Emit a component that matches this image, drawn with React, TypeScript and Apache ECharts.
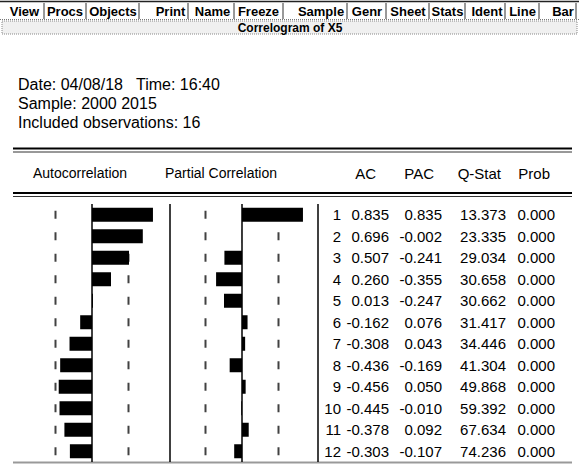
import React, { useEffect, useRef } from "react";
import * as echarts from "echarts";

// ---- data ----
const lags = [1, 2, 3, 4, 5, 6, 7, 8, 9, 10, 11, 12];
const acValues = [0.835, 0.696, 0.507, 0.26, 0.013, -0.162, -0.308, -0.436, -0.456, -0.445, -0.378, -0.303];
const pacValues = [0.835, -0.002, -0.241, -0.355, -0.247, 0.076, 0.043, -0.169, 0.05, -0.01, 0.092, -0.107];
const qStats = [13.373, 23.335, 29.034, 30.658, 30.662, 31.417, 34.446, 41.304, 49.868, 59.392, 67.634, 74.236];
const probs = [0, 0, 0, 0, 0, 0, 0, 0, 0, 0, 0, 0];
const confBound = 0.5; // 2/sqrt(16)
const tableHeaders = ["AC", "PAC", "Q-Stat", "Prob"];
const panelHeaders = ["Autocorrelation", "Partial Correlation"];
const infoLines = ["Date: 04/08/18   Time: 16:40", "Sample: 2000 2015", "Included observations: 16"];
const toolbarLabels = ["View", "Procs", "Objects", "Print", "Name", "Freeze", "Sample", "Genr", "Sheet", "Stats", "Ident", "Line", "Bar"];
const windowTitle = "Correlogram of X5";

// ---- layout (not data) ----
const W = 579;
const H = 470;
const FONT = '"Liberation Sans", Arial, sans-serif';
const GRID_TOP = 204;
const GRID_H = 258;
const toolbarSpans: [number, number][] = [
  [8, 41], [47, 83], [90, 136], [156, 185], [194, 231], [237, 280],
  [298, 344], [351, 383], [390, 426], [433, 462], [472, 502], [509, 536], [553, 573],
];
const colRight = [341, 389, 442, 506, 555];
const headRight = [376, 434, 501, 550];

export default function App() {
  const ref = useRef<HTMLDivElement>(null);
  useEffect(() => {
    document.body.style.margin = "0";
    const el = ref.current;
    if (!el) return;
    const chart = echarts.init(el, null, { renderer: "svg" });

    const boundSeries = (xi: number, sign: number) => ({
      type: "scatter",
      xAxisIndex: xi,
      yAxisIndex: xi,
      symbol: "rect",
      symbolSize: [2, 8],
      itemStyle: { color: "#111" },
      z: 2,
      silent: true,
      data: lags.map((_, i) => [sign * confBound, i]),
    });
    const zeroLine = {
      silent: true,
      symbol: "none",
      label: { show: false },
      lineStyle: { color: "#000", width: 1.5, type: "solid" },
      data: [{ xAxis: 0 }],
    };

    chart.setOption({
      animation: false,
      backgroundColor: "#fff",
      grid: [
        { left: 19, width: 146, top: GRID_TOP, height: GRID_H },
        { left: 169, width: 146, top: GRID_TOP, height: GRID_H },
      ],
      xAxis: [0, 1].map((i) => ({
        type: "value",
        gridIndex: i,
        min: -1,
        max: 1,
        show: false,
      })),
      yAxis: [0, 1].map((i) => ({
        type: "category",
        gridIndex: i,
        data: lags.map(String),
        inverse: true,
        show: false,
      })),
      series: [
        {
          type: "bar",
          xAxisIndex: 0,
          yAxisIndex: 0,
          data: acValues,
          barWidth: 14,
          itemStyle: { color: "#000" },
          z: 3,
          markLine: zeroLine,
        },
        {
          type: "bar",
          xAxisIndex: 1,
          yAxisIndex: 1,
          data: pacValues,
          barWidth: 14,
          itemStyle: { color: "#000" },
          z: 3,
          markLine: zeroLine,
        },
        boundSeries(0, -1),
        boundSeries(0, 1),
        boundSeries(1, -1),
        boundSeries(1, 1),
      ],
    });

    const rowY = lags.map((_, i) => chart.convertToPixel({ yAxisIndex: 0 }, i) as number);
    const txt = (text: string, x: number, y: number, align: string, size = 15, weight = "normal") => ({
      type: "text",
      x,
      y,
      silent: true,
      style: { text, fill: "#000", font: `${weight} ${size}px ${FONT}`, align, verticalAlign: "middle" },
    });
    const hline = (x1: number, x2: number, y: number, width: number, color = "#000", dash?: number[]) => ({
      type: "line",
      silent: true,
      shape: { x1, y1: y, x2, y2: y },
      style: { stroke: color, lineWidth: width, lineDash: dash },
    });
    const vline = (x: number, y1: number, y2: number, width: number, color = "#000") => ({
      type: "line",
      silent: true,
      shape: { x1: x, y1, x2: x, y2 },
      style: { stroke: color, lineWidth: width },
    });

    const graphics: any[] = [];
    // toolbar
    graphics.push(hline(0, W, 1.5, 1.5, "#222"));
    graphics.push(hline(0, W, 19.5, 1, "#777", [1, 1]));
    toolbarLabels.forEach((lab, i) => {
      const [a, b] = toolbarSpans[i];
      graphics.push(txt(lab, (a + b) / 2, 11, "center", 13, "bold"));
      graphics.push(vline(b + 3, 3, 19, 1, "#333"));
    });
    // title bar
    graphics.push({
      type: "rect",
      silent: true,
      shape: { x: 2, y: 21, width: W - 4, height: 13 },
      style: { fill: "#f0f0f0", stroke: "#888", lineWidth: 1, lineDash: [1, 1] },
    });
    graphics.push(txt(windowTitle, 290, 27.5, "center", 12, "bold"));
    // info
    infoLines.forEach((t, i) => graphics.push(txt(t, 18, 84 + i * 19, "left", 16)));
    // double rules
    graphics.push(hline(13, 572, 148.5, 2));
    graphics.push(hline(13, 572, 152, 1, "#333"));
    graphics.push(hline(13, 572, 193, 2));
    graphics.push(hline(13, 572, 196.5, 1, "#333"));
    graphics.push(hline(13, 572, 462.5, 2, "#999"));
    // headers
    graphics.push(txt(panelHeaders[0], 80, 173, "center", 14));
    graphics.push(txt(panelHeaders[1], 221, 173, "center", 14));
    tableHeaders.forEach((h, i) => graphics.push(txt(h, headRight[i], 173, "right")));
    // separators
    graphics.push(vline(170, GRID_TOP, GRID_TOP + GRID_H, 1.5));
    graphics.push(vline(318, GRID_TOP, GRID_TOP + GRID_H, 1.5));
    // table rows
    lags.forEach((lag, i) => {
      const y = rowY[i];
      const cells = [
        String(lag),
        acValues[i].toFixed(3),
        pacValues[i].toFixed(3),
        qStats[i].toFixed(3),
        probs[i].toFixed(3),
      ];
      cells.forEach((c, j) => graphics.push(txt(c, colRight[j], y, "right")));
    });

    chart.setOption({ graphic: graphics });
    return () => chart.dispose();
  }, []);

  return <div ref={ref} style={{ width: W, height: H }} />;
}
